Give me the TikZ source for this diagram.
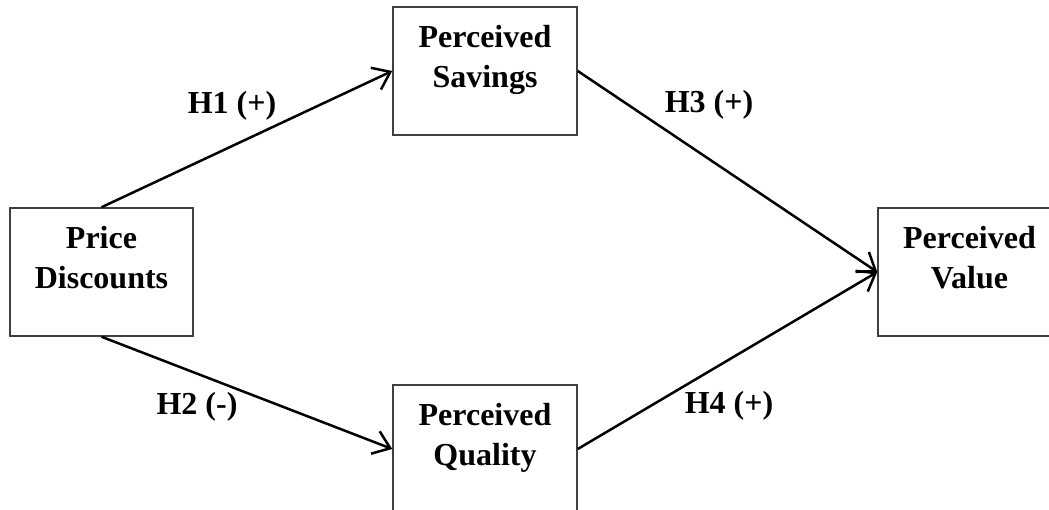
\documentclass[tikz,border=0pt]{standalone}
\usepackage{fontspec}
\setmainfont{Liberation Serif}
\usetikzlibrary{arrows.meta}
\tikzset{
  box/.style={draw=black!75, line width=1.5pt, minimum width=183pt, minimum height=128pt, inner sep=0pt, fill=white},
  boxtext/.style={anchor=north, align=center, inner sep=0pt, font=\fontsize{32}{40}\selectfont\bfseries},
  hyp/.style={anchor=base, inner sep=0pt, font=\fontsize{32}{40}\selectfont\bfseries},
  link/.style={line width=2.5pt, -{Straight Barb[length=16pt,width=24pt]}}
}
\begin{document}
\begin{tikzpicture}[x=1pt,y=-1pt]
\useasboundingbox (0,0) rectangle (1049,510);
\clip (0,0) rectangle (1049,510);
\fill[white] (0,0) rectangle (1049,510);
\node[box] (pd) at (101.5,272) {};
\node[box, minimum width=184pt] (ps) at (485,71) {};
\node[box] (pv) at (969.5,272) {};
\node[box, minimum width=184pt] (pq) at (485,449) {};
\node[boxtext] (tpd) at ([yshift=-16pt]pd.north) {\rule{0pt}{25pt}Price\\Discounts};
\node[boxtext] (tps) at ([yshift=-16pt]ps.north) {\rule{0pt}{25pt}Perceived\\Savings};
\node[boxtext] (tpv) at ([yshift=-16pt]pv.north) {\rule{0pt}{25pt}Perceived\\Value};
\node[boxtext] (tpq) at ([yshift=-16pt]pq.north) {\rule{0pt}{25pt}Perceived\\Quality};
\draw[link] (pd.north) -- (ps.west);
\draw[link] (pd.south) -- (pq.west);
\draw[link] (ps.east) -- (pv.west);
\draw[link] (pq.east) -- (pv.west);
\node[hyp] (h1) at (232,114) {H1 (+)};
\node[hyp] (h2) at (197,414) {H2 (-)};
\node[hyp] (h3) at (709,113) {H3 (+)};
\node[hyp] (h4) at (729,413) {H4 (+)};
\end{tikzpicture}
\end{document}
